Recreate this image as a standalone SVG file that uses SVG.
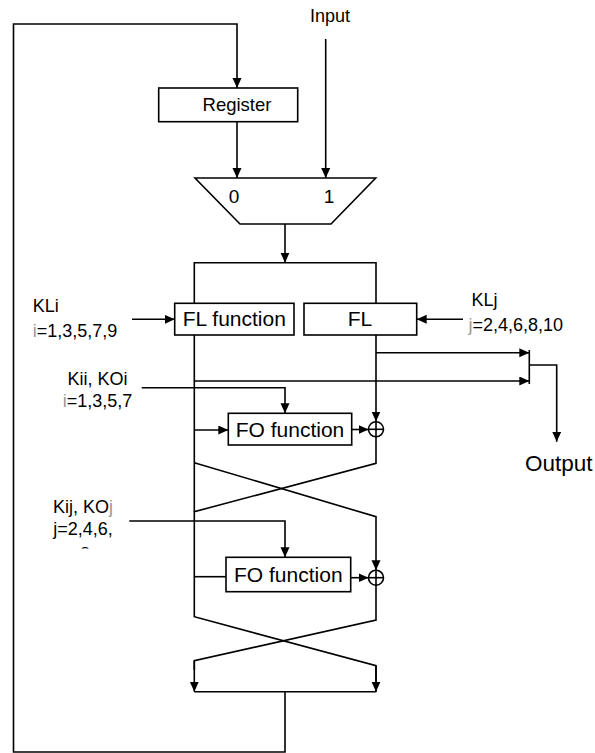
<svg xmlns="http://www.w3.org/2000/svg" width="595" height="753" viewBox="0 0 595 753">
<defs>
<marker id="ah" markerUnits="userSpaceOnUse" markerWidth="11" markerHeight="10" refX="10" refY="4.5" orient="auto">
<path d="M0,0 L10,4.5 L0,9 z" fill="#000"/>
</marker>
<clipPath id="clip8"><rect x="0" y="0" width="200" height="548.5"/></clipPath>
<style>
.ln{fill:none;stroke:#000;stroke-width:1.6}
.ar{fill:none;stroke:#000;stroke-width:1.6;marker-end:url(#ah)}
.bx{fill:#fff;stroke:#000;stroke-width:1.6}
text{font-family:"Liberation Sans",Arial,sans-serif;fill:#000}
.t18{font-size:18px}
.t21{font-size:21px}
.c{text-anchor:middle}
.g{fill:#999}
</style>
</defs>
<g id="connectors">
<polyline class="ar" points="285,691.7 285,752 13.5,752 13.5,24 237,24 237,88"/>
<line class="ar" x1="237" y1="121.7" x2="237" y2="178"/>
<line class="ar" x1="325.7" y1="39" x2="325.7" y2="178"/>
<line class="ar" x1="285" y1="224" x2="285" y2="262.7"/>
<polyline class="ln" points="194.3,511.7 194.3,262.7 376,262.7 376,380"/>
<line class="ar" x1="376" y1="380" x2="376" y2="421.5"/>
<line class="ar" x1="132" y1="319.3" x2="174.7" y2="319.3"/>
<line class="ar" x1="463" y1="319.3" x2="416.7" y2="319.3"/>
<line class="ar" x1="376" y1="352.7" x2="529.3" y2="352.7"/>
<line class="ar" x1="194.3" y1="381" x2="529.3" y2="381"/>
<line class="ln" x1="529.3" y1="350" x2="529.3" y2="384"/>
<polyline class="ar" points="529.3,365 556.7,365 556.7,441.7"/>
<polyline class="ar" points="141.7,387.7 285,387.7 285,413.3"/>
<line class="ar" x1="194.3" y1="430" x2="228.3" y2="430"/>
<line class="ar" x1="351.7" y1="429.5" x2="368.5" y2="429.5"/>
<polyline class="ln" points="376,437 376,463.3 194.3,511.7 194.3,616.7 376,665.7 376,691.7"/>
<polyline class="ln" points="194.3,462.7 376,516.7 376,530"/>
<line class="ar" x1="376" y1="530" x2="376" y2="570.2"/>
<polyline class="ar" points="129.3,521 285,521 285,557.3"/>
<line class="ln" x1="194.3" y1="576.7" x2="226" y2="576.7"/>
<line class="ar" x1="350.7" y1="577.7" x2="368.5" y2="577.7"/>
<polyline class="ln" points="376,585.2 376,620 194.3,660.7 194.3,670"/>
<line class="ar" x1="194.3" y1="660.7" x2="194.3" y2="691.7"/>
<line class="ar" x1="376" y1="665.7" x2="376" y2="691.7"/>
<line class="ln" x1="194.3" y1="691.7" x2="376" y2="691.7"/>
</g>
<g id="register">
<rect class="bx" x="158.7" y="88" width="139" height="33.7"/>
<text class="t18 c" x="237" y="111" style="font-size:18.5px">Register</text>
</g>
<g id="input"><text class="t18 c" x="330" y="22">Input</text></g>
<g id="mux">
<polygon class="bx" points="195,178 375.7,178 331,224 240,224"/>
<text class="c" x="234" y="203" style="font-size:19px">0</text>
<text class="c" x="329" y="203" style="font-size:19px">1</text>
</g>
<g id="fl-function">
<rect class="bx" x="174.7" y="303.3" width="119.3" height="31.7"/>
<text class="t21 c" x="234.3" y="326">FL function</text>
</g>
<g id="fl">
<rect class="bx" x="304" y="303.3" width="112.7" height="31.7"/>
<text class="t21 c" x="360" y="326">FL</text>
</g>
<g id="kli">
<text class="t18" x="32.7" y="311.5">KLi</text>
<text class="t18" x="32.7" y="336.5"><tspan class="g">i</tspan>=1,3,5,7,9</text>
</g>
<g id="klj">
<text class="t18" x="471.5" y="306">KLj</text>
<text class="t18" x="468.5" y="331"><tspan class="g">j</tspan>=2,4,6,8,10</text>
</g>
<g id="kii">
<text class="t18 c" x="97.5" y="385">Kii, KOi</text>
<text class="t18 c" x="97.5" y="407"><tspan class="g">i</tspan>=1,3,5,7</text>
</g>
<g id="fo1">
<rect class="bx" x="228.3" y="413.3" width="123.4" height="31.7"/>
<text class="t21 c" x="290" y="436.5">FO function</text>
</g>
<g id="xor1">
<circle class="ln" cx="376" cy="429.3" r="7.5"/>
<line class="ln" x1="368.5" y1="429.3" x2="383.5" y2="429.3"/>
<line class="ln" x1="376" y1="421.8" x2="376" y2="436.8"/>
</g>
<g id="output"><text x="525" y="471" style="font-size:22.5px">Output</text></g>
<g id="kij">
<text class="t18 c" x="83" y="513">Kij, KO<tspan class="g">j</tspan></text>
<text class="t18 c" x="83" y="535">j=2,4,6,</text>
<text class="t18 c" x="85" y="560" clip-path="url(#clip8)">8</text>
</g>
<g id="fo2">
<rect class="bx" x="226" y="557.3" width="124.7" height="34.4"/>
<text class="t21 c" x="288.3" y="582">FO function</text>
</g>
<g id="xor2">
<circle class="ln" cx="376" cy="577.7" r="7.5"/>
<line class="ln" x1="368.5" y1="577.7" x2="383.5" y2="577.7"/>
<line class="ln" x1="376" y1="570.2" x2="376" y2="585.2"/>
</g>
</svg>
